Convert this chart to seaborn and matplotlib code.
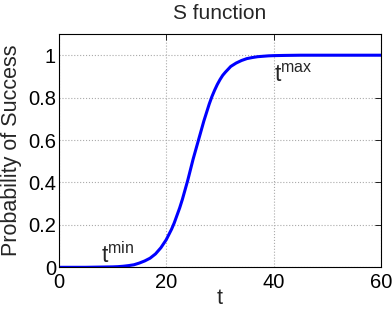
import matplotlib
matplotlib.use("Agg")
import matplotlib.pyplot as plt
import seaborn as sns
import pandas as pd

t_values = [0, 5, 10, 11, 12, 13, 14, 15, 16, 17, 18, 19, 20, 20.5, 21, 21.5, 22, 22.5, 23, 23.5,
            24, 24.5, 25, 25.5, 26, 26.5, 27, 27.5, 28, 28.5, 29, 29.5, 30, 30.5, 31, 32, 33, 34,
            35, 36, 37, 38, 39, 40, 42, 45, 50, 60]
prob_values = [0, 0, 0.002, 0.003, 0.005, 0.008, 0.012, 0.02, 0.03, 0.043, 0.063, 0.092, 0.13,
               0.155, 0.18, 0.21, 0.245, 0.28, 0.32, 0.365, 0.41, 0.46, 0.51, 0.555, 0.6, 0.645,
               0.69, 0.73, 0.77, 0.805, 0.835, 0.862, 0.885, 0.905, 0.92, 0.947, 0.963, 0.975,
               0.984, 0.989, 0.993, 0.995, 0.997, 0.998, 0.999, 1.0, 1.0, 1.0]
x_ticks = [0, 20, 40, 60]
y_ticks = [0, 0.2, 0.4, 0.6, 0.8, 1]
y_tick_labels = ["0", "0.2", "0.4", "0.6", "0.8", "1"]

sns.set_style("white")
plt.rcParams['font.family'] = ['Liberation Sans', 'DejaVu Sans']
plt.rcParams['mathtext.default'] = 'regular'

df = pd.DataFrame({"t": t_values, "p": prob_values})

fig = plt.figure(figsize=(3.92, 3.10), dpi=100)
ax = fig.add_axes([58.7/392, 1 - 267.3/310, (381.3-58.7)/392, (267.3-34)/310])
sns.lineplot(data=df, x="t", y="p", ax=ax, color="#0000ff", linewidth=2.2)

ax.set_xlim(0, 60)
ax.set_ylim(0, 1.1)
ax.set_xticks(x_ticks)
ax.set_yticks(y_ticks)
ax.set_yticklabels(y_tick_labels)
ax.tick_params(direction="in", top=True, right=True, length=4, width=0.6,
               labelsize=14.5, colors="black")
ax.tick_params(axis="x", pad=4)
ax.tick_params(axis="y", pad=2)
for s in ax.spines.values():
    s.set_color("black")
    s.set_linewidth(0.8)
ax.grid(True, linestyle=":", color="#aaaaaa", linewidth=0.8)
ax.set_axisbelow(True)

ax.set_title("S function", fontsize=15, pad=11)
ax.set_xlabel("t", fontsize=15.5, labelpad=-3)
ax.set_ylabel("Probability of Success", fontsize=15.5, labelpad=4)

ax.text(7.9, 0.019, "$t^{min}$", fontsize=16.5, ha="left", va="baseline")
ax.text(40.0, 0.875, "$t^{max}$", fontsize=16.5, ha="left", va="baseline")

fig.savefig("out.png", dpi=100)
